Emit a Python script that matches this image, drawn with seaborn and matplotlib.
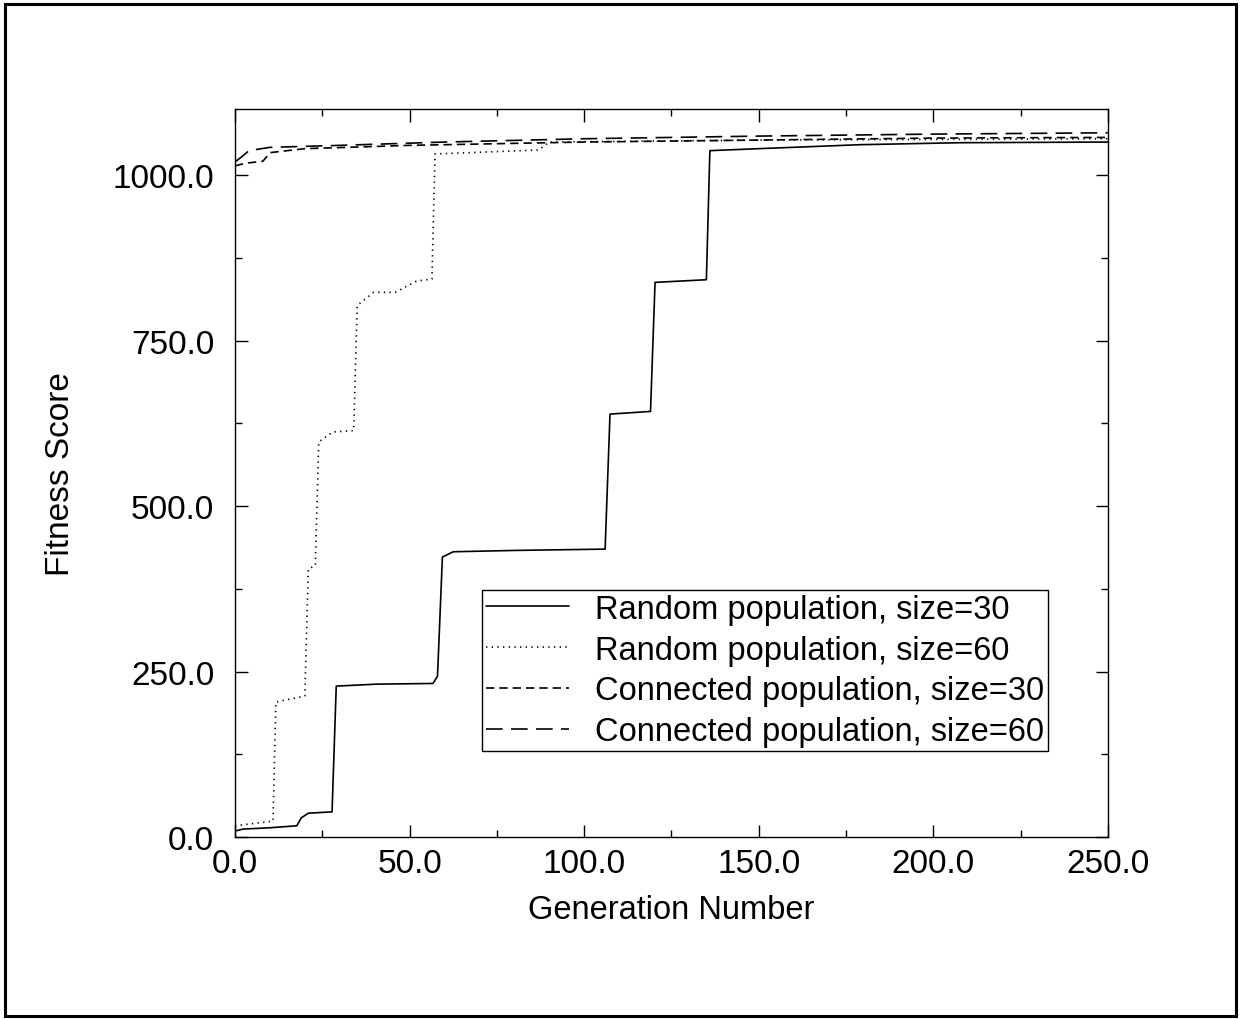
import numpy as np
import pandas as pd
import seaborn as sns
import matplotlib.pyplot as plt
from matplotlib.patches import Rectangle
from matplotlib.ticker import MultipleLocator, FormatStrFormatter

# values
rand30_gen = [0, 2.3, 10, 17.7, 19, 21, 27.8, 29, 40.6, 56.7, 58, 59.4, 62.5, 80, 106, 107.4, 119, 120.3, 135, 136, 150, 179, 207.6, 250]
rand30_fit = [9, 12, 14, 17, 29, 36, 38, 228, 231, 232, 243, 423, 431, 433, 435, 639, 643, 838, 842, 1037, 1040, 1046, 1049, 1050]

rand60_gen = [0, 10.9, 11.7, 20, 21, 23, 24, 28, 34, 35, 39.7, 46, 52, 56.4, 57.3, 87, 90, 150, 250]
rand60_fit = [17, 24, 204, 213, 405, 410, 597, 612, 614, 803, 823, 823, 840, 843, 1032, 1038, 1050, 1053, 1055]

conn30_gen = [0, 3, 8, 10, 20, 50, 100, 150, 200, 250]
conn30_fit = [1014, 1018, 1021, 1034, 1040, 1045, 1050, 1053, 1056, 1057]

conn60_gen = [0, 2, 4, 10, 30, 60, 100, 150, 200, 250]
conn60_fit = [1020, 1028, 1037, 1042, 1045, 1050, 1055, 1059, 1062, 1064]

labels = ["Random population, size=30", "Random population, size=60",
          "Connected population, size=30", "Connected population, size=60"]

def build_frame():
    parts = []
    for name, g, f in zip(labels,
                          [rand30_gen, rand60_gen, conn30_gen, conn60_gen],
                          [rand30_fit, rand60_fit, conn30_fit, conn60_fit]):
        parts.append(pd.DataFrame({"gen": g, "fit": f, "series": name}))
    return pd.concat(parts, ignore_index=True)

def main():
    df = build_frame()
    sns.set_style("ticks")
    plt.rcParams["font.family"] = ["Liberation Sans", "DejaVu Sans"]
    plt.rcParams["text.color"] = "black"
    plt.rcParams["axes.labelcolor"] = "black"

    fig = plt.figure(figsize=(12.4, 10.2), dpi=100)
    ax = fig.add_axes([0.1895, 0.1784, 0.704, 0.7138])

    dash_map = {labels[0]: "",
                labels[1]: (0.8, 2.6),
                labels[2]: (5, 3),
                labels[3]: (10, 5)}
    sns.lineplot(data=df, x="gen", y="fit", hue="series", style="series",
                 palette=["black"] * 4, dashes=dash_map, estimator=None,
                 sort=False, linewidth=1.2, ax=ax)

    ax.set_xlim(0, 250)
    ax.set_ylim(0, 1100)
    ax.xaxis.set_major_locator(MultipleLocator(50))
    ax.xaxis.set_minor_locator(MultipleLocator(25))
    ax.yaxis.set_major_locator(MultipleLocator(250))
    ax.yaxis.set_minor_locator(MultipleLocator(125))
    ax.xaxis.set_major_formatter(FormatStrFormatter("%.1f"))
    ax.yaxis.set_major_formatter(FormatStrFormatter("%.1f"))
    ax.tick_params(which="both", direction="in", top=True, right=True,
                   labelsize=24, width=1.0, colors="black")
    ax.tick_params(which="major", length=9)
    ax.tick_params(which="minor", length=5)
    ax.tick_params(axis="x", which="major", pad=8)
    ax.tick_params(axis="y", which="major", pad=15)
    for s in ax.spines.values():
        s.set_linewidth(1.0)
        s.set_color("black")

    ax.set_xlabel("Generation Number", fontsize=23.5, labelpad=11)
    ax.set_ylabel("Fitness Score", fontsize=24, labelpad=26)

    leg = ax.legend(loc="lower left", bbox_to_anchor=(0.283, 0.118),
                    fontsize=23.5, frameon=True, fancybox=False,
                    edgecolor="black", framealpha=1, handlelength=2.55,
                    handletextpad=0.8, labelspacing=0.3, borderpad=0.12,
                    borderaxespad=0)
    leg.get_frame().set_linewidth(1.0)

    fig.add_artist(Rectangle((0.004, 0.003), 0.993, 0.992,
                             transform=fig.transFigure, fill=False,
                             edgecolor="black", linewidth=2.2))

    fig.savefig("out.png", dpi=100, facecolor="white")

if __name__ == "__main__":
    main()
